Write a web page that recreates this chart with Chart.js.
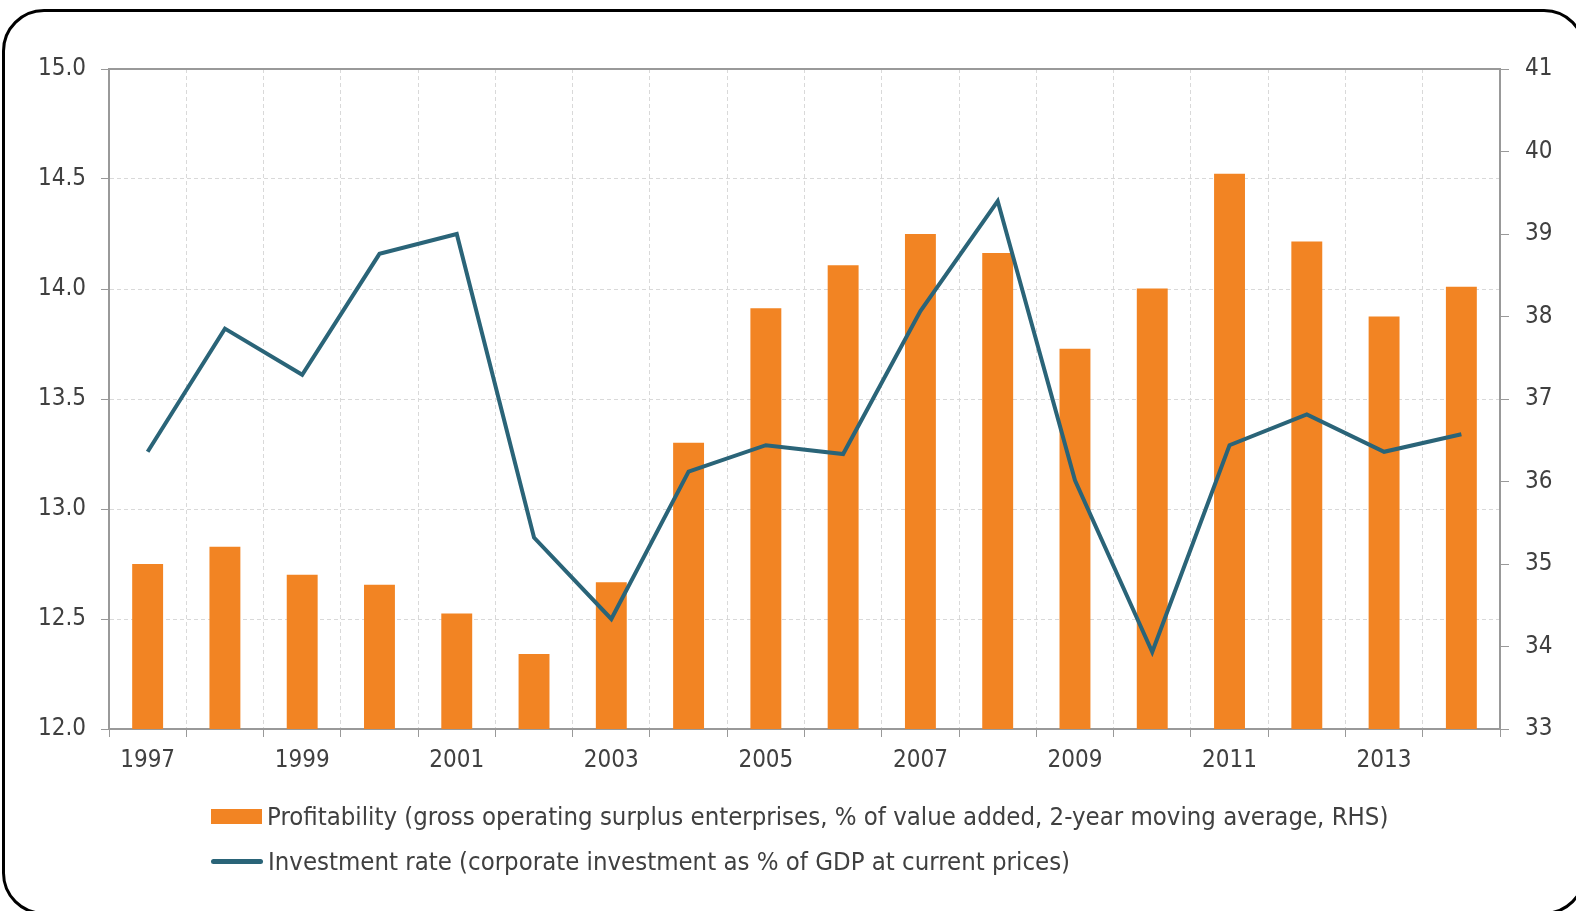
<!DOCTYPE html>
<html>
<head>
<meta charset="utf-8">
<script src="https://cdn.jsdelivr.net/npm/chart.js@4.4.0/dist/chart.umd.min.js"></script>
<style>
  html, body { margin: 0; padding: 0; background: #fff; overflow: hidden; }
  #wrap { position: relative; width: 1576px; height: 911px; }
  #frame { position: absolute; left: 2px; top: 9px; width: 1584px; height: 906px; border: 3px solid #000;
           border-radius: 42px; box-sizing: border-box; pointer-events: none; }
  #chart { position: absolute; left: 0; top: 0; }
  .leg { position: absolute; left: 211px; height: 30px; display: flex; align-items: center;
         font-family: "DejaVu Sans Condensed", "DejaVu Sans", sans-serif; font-size: 25.5px; color: #404040; }
  .box { width: 51px; height: 15px; background: #F28423; margin-right: 5px; }
  .ln { width: 52px; height: 5px; border-radius: 3px; background: #2A6478; margin: 0 5px 0 0; }
</style>
</head>
<body>
<div id="wrap">
  <canvas id="chart" width="1576" height="911"></canvas>
  <div class="leg" style="top:801px"><span class="box"></span>Profitability (gross operating surplus enterprises, % of value added, 2-year moving average, RHS)</div>
  <div class="leg" style="top:846px"><span class="ln"></span>Investment rate (corporate investment as % of GDP at current prices)</div>
  <div id="frame"></div>
</div>
<script>
const years = ['1997', '1998', '1999', '2000', '2001', '2002', '2003', '2004', '2005',
               '2006', '2007', '2008', '2009', '2010', '2011', '2012', '2013', '2014'];

// bars, right axis (33-41)
const profitability = [35.00, 35.21, 34.87, 34.75, 34.40, 33.91, 34.78, 36.47, 38.10,
                       38.62, 39.00, 38.77, 37.61, 38.34, 39.73, 38.91, 38.00, 38.36];

// line, left axis (12-15)
const investmentRate = [13.26, 13.82, 13.61, 14.16, 14.25, 12.87, 12.50, 13.17, 13.29,
                        13.25, 13.90, 14.40, 13.13, 12.35, 13.29, 13.43, 13.26, 13.34];

const leftAxis = { min: 12, max: 15, step: 0.5 };
const rightAxis = { min: 33, max: 41, step: 1 };

const textColor = '#404040';
const axisColor = '#999999';
const gridColor = '#d9d9d9';
const tickFont = { family: '"DejaVu Sans Condensed", "DejaVu Sans", sans-serif', size: 24 };

// solid line along the top of the plot
const topBorder = {
  id: 'topBorder',
  afterDraw(chart) {
    const { ctx, chartArea } = chart;
    ctx.save();
    ctx.strokeStyle = axisColor;
    ctx.lineWidth = 2;
    ctx.beginPath();
    ctx.moveTo(chartArea.left, chartArea.top);
    ctx.lineTo(chartArea.right, chartArea.top);
    ctx.stroke();
    ctx.restore();
  }
};

const ctx = document.getElementById('chart').getContext('2d');

new Chart(ctx, {
  type: 'bar',
  data: {
    labels: years,
    datasets: [
      {
        type: 'line',
        label: 'Investment rate (corporate investment as % of GDP at current prices)',
        data: investmentRate,
        yAxisID: 'y',
        borderColor: '#2A6478',
        borderWidth: 4,
        pointRadius: 0,
        tension: 0,
        fill: false
      },
      {
        type: 'bar',
        label: 'Profitability (gross operating surplus enterprises, % of value added, 2-year moving average, RHS)',
        data: profitability,
        yAxisID: 'y1',
        backgroundColor: '#F28423',
        barPercentage: 0.4,
        categoryPercentage: 1.0
      }
    ]
  },
  options: {
    responsive: false,
    animation: false,
    devicePixelRatio: 1,
    layout: { padding: { top: 69, left: 0, right: 0, bottom: 0 } },
    plugins: {
      legend: { display: false },
      tooltip: { enabled: false }
    },
    scales: {
      x: {
        offset: true,
        grid: { offset: true, color: gridColor, tickColor: axisColor, tickLength: 8, lineWidth: 1 },
        border: { color: axisColor, width: 2, dash: [4, 3] },
        ticks: {
          autoSkip: false,
          maxRotation: 0,
          color: textColor,
          font: tickFont,
          padding: 9,
          callback: (v, i) => (i % 2 === 0 ? years[i] : '')
        },
        afterFit: s => { s.height = 182; }
      },
      y: {
        position: 'left',
        min: leftAxis.min,
        max: leftAxis.max,
        grid: { color: gridColor, tickColor: axisColor, tickLength: 8 },
        border: { color: axisColor, width: 2, dash: [4, 3] },
        ticks: {
          stepSize: leftAxis.step,
          color: textColor,
          font: tickFont,
          padding: 15,
          callback: v => v.toFixed(1)
        },
        afterFit: s => { s.width = 109; }
      },
      y1: {
        position: 'right',
        min: rightAxis.min,
        max: rightAxis.max,
        grid: { drawOnChartArea: false, color: axisColor, tickLength: 9 },
        border: { color: axisColor, width: 2 },
        ticks: {
          stepSize: rightAxis.step,
          color: textColor,
          font: tickFont,
          padding: 16
        },
        afterFit: s => { s.width = 76; }
      }
    }
  },
  plugins: [topBorder]
});
</script>
</body>
</html>
